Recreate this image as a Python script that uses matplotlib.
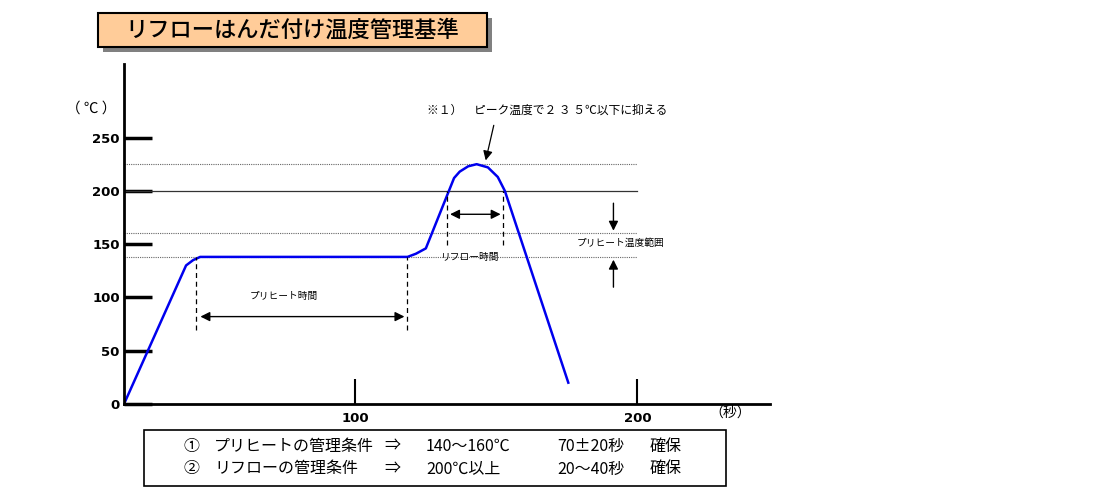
import matplotlib.pyplot as plt
from matplotlib.patches import Rectangle

plt.rcParams['font.family'] = ['Noto Sans CJK JP', 'DejaVu Sans']

# reflow profile (seconds, deg C)
curve_t = [18, 40, 42.5, 45, 118.5, 121.5, 125, 135, 137, 140, 143, 147, 150.5, 153, 175.5]
curve_T = [0, 130, 135, 138, 138, 141, 146, 212, 218, 223, 225, 222, 213, 200, 20]

ref_dotted = [225, 160, 138]
ref_solid = 200
yticks = [0, 50, 100, 150, 200, 250]
xticks = [100, 200]

preheat_span = (43.6, 118.4)
reflow_span = (132.6, 152.5)

title = "リフローはんだ付け温度管理基準"
note_rows = [
    ["①", "プリヒートの管理条件", "⇒", "140〜160℃", "70±20秒", "確保"],
    ["②", "リフローの管理条件", "⇒", "200℃以上", "20〜40秒", "確保"],
]

fig = plt.figure(figsize=(11.12, 5), dpi=100)
ax = fig.add_axes([124 / 1112, 96 / 500, 646 / 1112, 340 / 500])

ax.set_xlim(18, 247)
ax.set_ylim(0, 319)

# reference lines
for y in ref_dotted:
    ax.plot([18, 200], [y, y], color="#666666", lw=0.8, ls=(0, (1, 1)))
ax.plot([18, 200], [ref_solid, ref_solid], color="#333333", lw=0.9)

ax.plot(curve_t, curve_T, color="#0000ee", lw=1.8)

# preheat time
for x in preheat_span:
    ax.plot([x, x], [69, 138], color="black", lw=0.9, ls=(0, (4, 3)))
ax.annotate("", xy=(preheat_span[0] + 0.5, 82), xytext=(preheat_span[1], 82),
            arrowprops=dict(arrowstyle="<|-|>", color="black", lw=1, mutation_scale=14))
ax.text(74.5, 101, "プリヒート時間", fontsize=7, ha="center", va="center")

# reflow time
for x in reflow_span:
    ax.plot([x, x], [149, 200], color="black", lw=0.9, ls=(0, (4, 3)))
ax.annotate("", xy=(reflow_span[0], 178), xytext=(reflow_span[1], 178),
            arrowprops=dict(arrowstyle="<|-|>", color="black", lw=1, mutation_scale=14))
ax.text(140.8, 138, "リフロー時間", fontsize=7, ha="center", va="center")

# preheat temperature range
ax.annotate("", xy=(191.5, 160), xytext=(191.5, 191),
            arrowprops=dict(arrowstyle="-|>", color="black", lw=1, mutation_scale=14))
ax.annotate("", xy=(191.5, 138), xytext=(191.5, 107),
            arrowprops=dict(arrowstyle="-|>", color="black", lw=1, mutation_scale=14))
ax.text(194, 151, "プリヒート温度範囲", fontsize=7, ha="center", va="center")

# peak note
ax.annotate("", xy=(146, 226), xytext=(149.3, 264),
            arrowprops=dict(arrowstyle="-|>", color="black", lw=0.9, mutation_scale=14))
ax.text(125.5, 276, "※１）　ピーク温度で２ ３ ５℃以下に抑える", fontsize=8.5,
        ha="left", va="center", clip_on=False)

ax.text(6.5, 277, "（ ℃ ）", fontsize=10.5, ha="center", va="center", clip_on=False)
ax.text(233, -8.5, "（秒）", fontsize=10, ha="center", va="center", clip_on=False)

for s in ["top", "right"]:
    ax.spines[s].set_visible(False)
for s in ["left", "bottom"]:
    ax.spines[s].set_linewidth(2)

ax.set_yticks(yticks)
ax.set_xticks(xticks)
ax.tick_params(axis="y", direction="in", length=20, width=2.5, pad=3, labelsize=9.5)
ax.tick_params(axis="x", direction="in", length=18, width=1.5, pad=6, labelsize=9.5)
for lab in ax.get_xticklabels() + ax.get_yticklabels():
    lab.set_fontweight("bold")
    lab.set_family("DejaVu Sans")

# title box with shadow
fig.patches.append(Rectangle((103 / 1112, 448 / 500), 389 / 1112, 34 / 500,
                             transform=fig.transFigure, facecolor="#808080",
                             edgecolor="none", zorder=0))
fig.patches.append(Rectangle((98 / 1112, 453 / 500), 389 / 1112, 34 / 500,
                             transform=fig.transFigure, facecolor="#ffcc99",
                             edgecolor="black", lw=1.5, zorder=1))
fig.text(292 / 1112, 470 / 500, title, fontsize=16, ha="center", va="center",
         fontweight="medium")

# conditions box
fig.patches.append(Rectangle((144 / 1112, 14 / 500), 582 / 1112, 56 / 500,
                             transform=fig.transFigure, facecolor="white",
                             edgecolor="black", lw=1.2))
col_x = [192, 214, 392, 426, 557, 650]
row_y = [54, 31]
for row, yy in zip(note_rows, row_y):
    for i, (txt, xx) in enumerate(zip(row, col_x)):
        ha = "center" if i in (0, 2) else "left"
        fig.text(xx / 1112, yy / 500, txt, fontsize=11.5, ha=ha, va="center")

fig.savefig("out.png", dpi=100)
